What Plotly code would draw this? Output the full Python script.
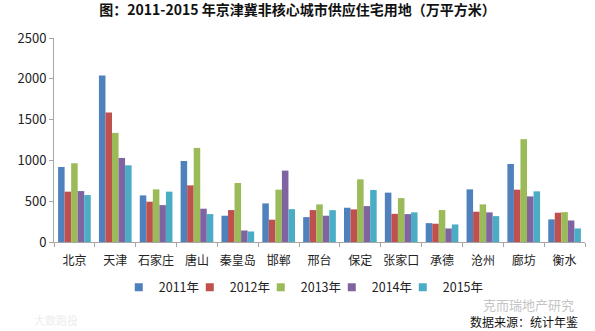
import plotly.graph_objects as go

cities = ["北京", "天津", "石家庄", "唐山", "秦皇岛", "邯郸", "邢台", "保定", "张家口", "承德", "沧州", "廊坊", "衡水"]
years = ["2011年", "2012年", "2013年", "2014年", "2015年"]

v2011 = [919, 2040, 571, 993, 322, 473, 305, 420, 605, 231, 645, 956, 277]
v2012 = [617, 1588, 494, 694, 391, 273, 391, 400, 345, 224, 371, 641, 359]
v2013 = [965, 1337, 645, 1153, 723, 641, 461, 768, 538, 391, 461, 1260, 366]
v2014 = [624, 1030, 452, 408, 141, 875, 322, 440, 342, 166, 363, 559, 264]
v2015 = [575, 940, 617, 342, 129, 403, 390, 637, 363, 215, 317, 621, 166]

series = [v2011, v2012, v2013, v2014, v2015]
colors = ["#4F81BD", "#C0504D", "#9BBB59", "#8064A2", "#4BACC6"]

FONT = "Noto Sans CJK SC"

fig = go.Figure()
for name, vals, col in zip(years, series, colors):
    fig.add_trace(go.Bar(x=cities, y=vals, name=name, showlegend=False,
                         marker=dict(color=col, line=dict(width=0))))

# one small legend per year so the entries sit at an even pitch
legend_names = ["legend", "legend2", "legend3", "legend4", "legend5"]
legend_cfg = {}
for i, (name, col, lg) in enumerate(zip(years, colors, legend_names)):
    fig.add_trace(go.Scatter(x=[None], y=[None], mode="markers", name=name, legend=lg,
                             marker=dict(symbol="square", size=8, color=col)))
    legend_cfg[lg] = dict(orientation="h", x=0.122 + i * 0.1337, xanchor="left",
                          y=-0.15, yanchor="top", bgcolor="rgba(0,0,0,0)",
                          font=dict(size=12.5, color="#222"), itemwidth=30)

fig.update_layout(
    width=595, height=331,
    margin=dict(l=54, r=10, t=38, b=89),
    paper_bgcolor="white", plot_bgcolor="white",
    barmode="group", bargap=0.2, bargroupgap=0,
    font=dict(family=FONT, size=12, color="#222"),
    showlegend=True,
    title=dict(text="<b>图：2011-2015 年京津冀非核心城市供应住宅用地（万平方米）</b>",
               x=0.5, xanchor="center", y=0.985, yanchor="top",
               font=dict(family=FONT, size=14, color="#111")),
    **legend_cfg,
)

fig.update_yaxes(range=[0, 2500], dtick=500, showgrid=False, zeroline=False,
                 showline=True, linecolor="#A6A6A6", linewidth=1,
                 ticks="outside", ticklen=4, tickcolor="#A6A6A6",
                 tickfont=dict(size=13, color="#222"))
fig.update_xaxes(showgrid=False, showline=True, linecolor="#A6A6A6", linewidth=1,
                 ticks="outside", ticklen=4, tickcolor="#A6A6A6", tickson="boundaries",
                 tickangle=0, ticklabelstandoff=8,
                 tickfont=dict(size=12, color="#222"))

fig.add_annotation(text="克而瑞地产研究", xref="paper", yref="paper", x=1.0, y=0,
                   showarrow=False, xanchor="right", yanchor="top", yshift=-51, xshift=-9,
                   font=dict(family=FONT, size=13, color="#C4C4C4"))
fig.add_annotation(text="数据来源：统计年鉴", xref="paper", yref="paper", x=1.0, y=0,
                   showarrow=False, xanchor="right", yanchor="top", yshift=-69, xshift=-5,
                   font=dict(family=FONT, size=12, color="#111"))
fig.add_annotation(text="大数跑投", xref="paper", yref="paper", x=0, y=0,
                   showarrow=False, xanchor="left", yanchor="top", yshift=-68, xshift=-22,
                   font=dict(family=FONT, size=11, color="#EDEDED"))

fig.write_html("out.html")
